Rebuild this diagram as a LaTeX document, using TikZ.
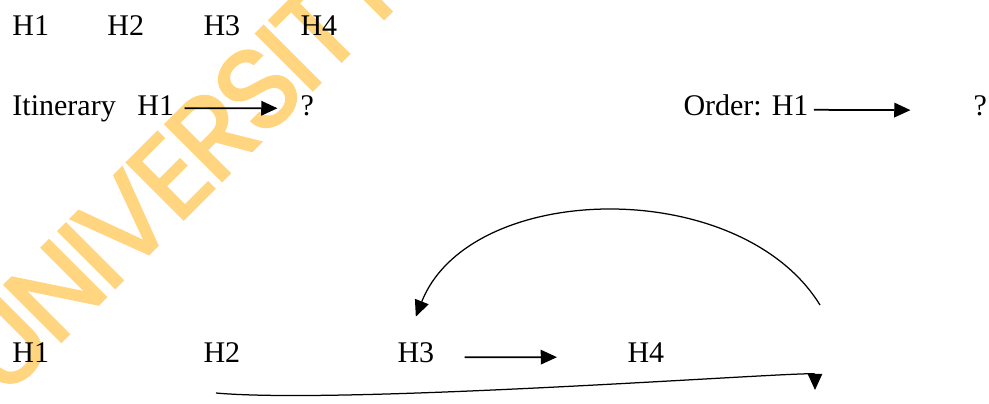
\documentclass[tikz,border=0pt]{standalone}
\usepackage{fontspec}
\setmainfont{Liberation Serif}
\newfontfamily\wmfont[LetterSpace=-4,FakeBold=2]{Poppins}
\usetikzlibrary{arrows.meta}
\definecolor{wmyellow}{RGB}{255,213,128}

\begin{document}
\begin{tikzpicture}[
    x=0.4pt, y=-0.4pt, % one unit is one pixel of the page
    lbl/.style={font=\fontsize{12pt}{14pt}\selectfont, anchor=base west, inner sep=0pt},
    connector/.style={-{Triangle[length=6.5pt,width=5.8pt]}, line width=0.7pt},
    bendline/.style={-{Triangle[length=6.5pt,width=5.8pt]}, line width=0.5pt},
    watermark/.style={font=\wmfont\fontsize{46pt}{46pt}\selectfont, text=wmyellow, rotate=45, anchor=base west, inner sep=0pt}
]
    \useasboundingbox (0,0) rectangle (989,403);

    % Watermark
    \begin{scope}
        \clip (0,0) rectangle (989,403);
        \node[watermark] (wm) at (3,400) {UNIVERSITY};
    \end{scope}

    % Top row
    \node[lbl] (t1) at (12,35) {H1};
    \node[lbl] (t2) at (107,35) {H2};
    \node[lbl] (t3) at (203,35) {H3};
    \node[lbl] (t4) at (300,35) {H4};

    % Itinerary and order
    \node[lbl] (itin) at (12,115) {Itinerary};
    \node[lbl] (ith1) at (137,115) {H1};
    \node[lbl] (itq) at (300,115) {?};
    \node[lbl] (ord) at (683,115) {Order: H1};
    \node[lbl] (ordq) at (973,115) {?};

    % Bottom row
    \node[lbl] (b1) at (12,362) {H1};
    \node[lbl] (b2) at (203,362) {H2};
    \node[lbl] (b3) at (397,362) {H3};
    \node[lbl] (b4) at (627,362) {H4};
    \coordinate (arcR) at (820,305);
    \coordinate (lowL) at (216,393);
    \coordinate (lowR) at (815,390);

    % Connections
    \draw[connector, shorten <=4pt, shorten >=9pt] ([yshift=-1.2pt]ith1.east) -- ([yshift=-1.2pt]itq.west);
    \draw[connector, shorten <=2pt, shorten >=25pt] ([yshift=-2pt]ord.east) -- ([yshift=-2pt]ordq.west);
    \draw[connector, shorten <=12pt, shorten >=28pt] ([yshift=-2pt]b3.east) -- ([yshift=-2pt]b4.west);
    \draw[bendline] (arcR) .. controls (740,175) and (470,180) .. ([yshift=10pt]b3.north);
    \draw[bendline] (lowL) .. controls (350,405) and (815,370) .. (lowR);
\end{tikzpicture}
\end{document}
